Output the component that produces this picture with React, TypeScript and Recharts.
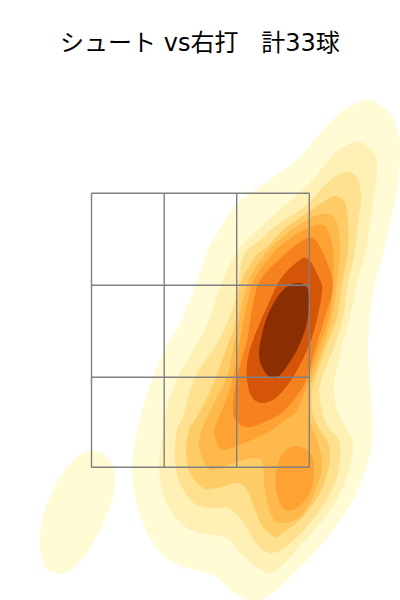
import React from 'react';
import { ScatterChart, Scatter, XAxis, YAxis } from 'recharts';

type P = [number, number];

const titleText = 'シュート vs右打   計33球';
const gridX = [-108.5, -35.8, 36.7, 109.3];
const gridY = [132.7, 222.7, 314.7, 406.7];

const level1Main: P[] = [[171,500],[190,487],[198,467],[200,447],[197,410],[190,377],[183,345],[175,317],[170,283],[168,250],[170,217],[172,183],[172,157],[163,123],[147,90],[123,57],[90,23],[70,5],[55,-1],[43,2],[33,8],[20,20],[7,27],[-13,32],[-33,42],[-47,57],[-57,77],[-65,103],[-68,130],[-65,157],[-58,190],[-48,220],[-37,247],[-20,277],[-5,313],[5,343],[17,367],[37,397],[67,418],[97,440],[117,463],[140,487],[157,497]];
const level1Side: P[] = [[-106,149],[-93,143],[-85,125],[-87,103],[-97,77],[-113,47],[-130,30],[-142,27],[-155,33],[-160,53],[-158,80],[-150,103],[-137,127],[-120,145]];
const level2: P[] = [[160,458],[175,445],[177,427],[170,377],[166,350],[157,317],[150,283],[141,250],[134,215],[137,190],[145,173],[153,157],[147,123],[130,90],[103,57],[80,33],[70,27],[57,33],[40,47],[27,62],[0,67],[-17,75],[-30,90],[-38,110],[-41,133],[-38,160],[-33,193],[-22,223],[-5,253],[8,277],[20,313],[36,347],[57,370],[83,393],[110,417],[133,445],[147,455]];
const level3: P[] = [[145,428],[157,422],[161,403],[158,377],[155,350],[148,317],[143,283],[133,250],[120,215],[122,190],[128,173],[140,157],[137,123],[120,90],[97,63],[77,48],[63,50],[52,63],[42,80],[28,92],[10,92],[-7,98],[-20,117],[-25,140],[-23,170],[-17,183],[-5,223],[15,253],[27,277],[36,303],[43,343],[60,360],[80,377],[107,395],[127,417]];
const level4: P[] = [[135,404],[145,397],[148,377],[148,350],[142,317],[137,283],[125,250],[113,215],[112,190],[118,173],[128,157],[130,140],[128,130],[120,107],[103,83],[83,67],[75,63],[63,73],[55,90],[47,110],[37,117],[17,112],[3,112],[-10,127],[-14,150],[-10,173],[-5,180],[12,213],[27,253],[36,280],[40,315],[55,343],[67,353],[83,370],[107,387],[123,398]];
const level5: P[] = [[127,386],[137,377],[140,350],[137,317],[132,283],[122,250],[110,215],[108,190],[112,173],[118,157],[122,140],[120,123],[113,103],[100,83],[83,77],[72,83],[65,110],[63,135],[57,142],[43,140],[20,132],[8,132],[-1,153],[2,170],[12,193],[27,223],[35,260],[47,315],[63,343],[85,365],[110,382]];
const level6Main: P[] = [[123,375],[129,366],[133,350],[133,317],[129,283],[118,250],[107,215],[97,190],[85,180],[67,167],[37,154],[23,150],[18,155],[14,167],[16,175],[26,200],[33,223],[40,260],[52,315],[70,343],[85,358],[107,372]];
const level6Side: P[] = [[97,154],[110,147],[114,130],[110,107],[95,91],[83,92],[76,110],[76,127],[83,147]];
const level7: P[] = [[113,362],[123,347],[132,323],[132,307],[125,283],[115,250],[104,215],[85,190],[73,182],[50,173],[38,177],[33,190],[37,223],[47,260],[58,315],[82,343],[100,358]];
const level8: P[] = [[108,341],[120,320],[122,307],[115,273],[107,250],[93,223],[77,203],[62,197],[52,203],[47,220],[48,243],[57,270],[67,293],[80,320],[97,338]];
const level9: P[] = [[97,317],[107,313],[109,300],[107,277],[97,250],[80,225],[70,223],[62,233],[59,247],[63,270],[70,290],[83,310]];

const levelColors = ['#fffbd5', '#fff1b5', '#fee08f', '#fecc66', '#feb84b', '#fea333', '#f6811f', '#d45508', '#8c2e03'];

const contours: { pts: P[]; level: number }[] = [
  { pts: level1Main, level: 0 },
  { pts: level1Side, level: 0 },
  { pts: level2, level: 1 },
  { pts: level3, level: 2 },
  { pts: level4, level: 3 },
  { pts: level5, level: 4 },
  { pts: level6Main, level: 5 },
  { pts: level6Side, level: 5 },
  { pts: level7, level: 6 },
  { pts: level8, level: 7 },
  { pts: level9, level: 8 },
];

function closedSmoothPath(points: { x: number; y: number }[]) {
  const n = points.length;
  if (!n) return '';
  let d = `M${points[0].x},${points[0].y}`;
  for (let i = 0; i < n; i++) {
    const p0 = points[(i - 1 + n) % n];
    const p1 = points[i];
    const p2 = points[(i + 1) % n];
    const p3 = points[(i + 2) % n];
    const c1x = p1.x + (p2.x - p0.x) / 6;
    const c1y = p1.y + (p2.y - p0.y) / 6;
    const c2x = p2.x - (p3.x - p1.x) / 6;
    const c2y = p2.y - (p3.y - p1.y) / 6;
    d += `C${c1x},${c1y},${c2x},${c2y},${p2.x},${p2.y}`;
  }
  return d + 'Z';
}

const noMarker = () => <g />;
const gridStroke = { stroke: '#808080', strokeWidth: 1.4, fill: 'none' };

export default function App() {
  return (
    <div style={{ position: 'absolute', left: 0, top: 0, width: 400, height: 600, overflow: 'hidden', background: '#fff' }}>
      <ScatterChart width={400} height={600} margin={{ top: 0, right: 0, bottom: 0, left: 0 }}>
        <XAxis type="number" dataKey="x" domain={[-200, 200]} hide allowDataOverflow />
        <YAxis type="number" dataKey="y" domain={[0, 600]} hide allowDataOverflow />
        {contours.map((c, i) => (
          <Scatter
            key={i}
            data={c.pts.map(([x, y]) => ({ x, y }))}
            isAnimationActive={false}
            shape={noMarker}
            line={(props: any) => (
              <path key={i} d={closedSmoothPath(props.points)} fill={levelColors[c.level]} stroke="none" />
            )}
          />
        ))}
        {gridX.map((x) => (
          <Scatter
            key={`v${x}`}
            data={[{ x, y: gridY[0] }, { x, y: gridY[3] }]}
            isAnimationActive={false}
            shape={noMarker}
            line={gridStroke}
          />
        ))}
        {gridY.map((y) => (
          <Scatter
            key={`h${y}`}
            data={[{ x: gridX[0], y }, { x: gridX[3], y }]}
            isAnimationActive={false}
            shape={noMarker}
            line={gridStroke}
          />
        ))}
      </ScatterChart>
      <div
        style={{
          position: 'absolute',
          left: 0,
          top: 25,
          width: 400,
          textAlign: 'center',
          whiteSpace: 'pre',
          fontFamily: '"DejaVu Sans", "Noto Sans CJK JP", sans-serif',
          fontSize: 24,
          lineHeight: '36px',
          color: '#000',
        }}
      >
        {titleText}
      </div>
    </div>
  );
}
